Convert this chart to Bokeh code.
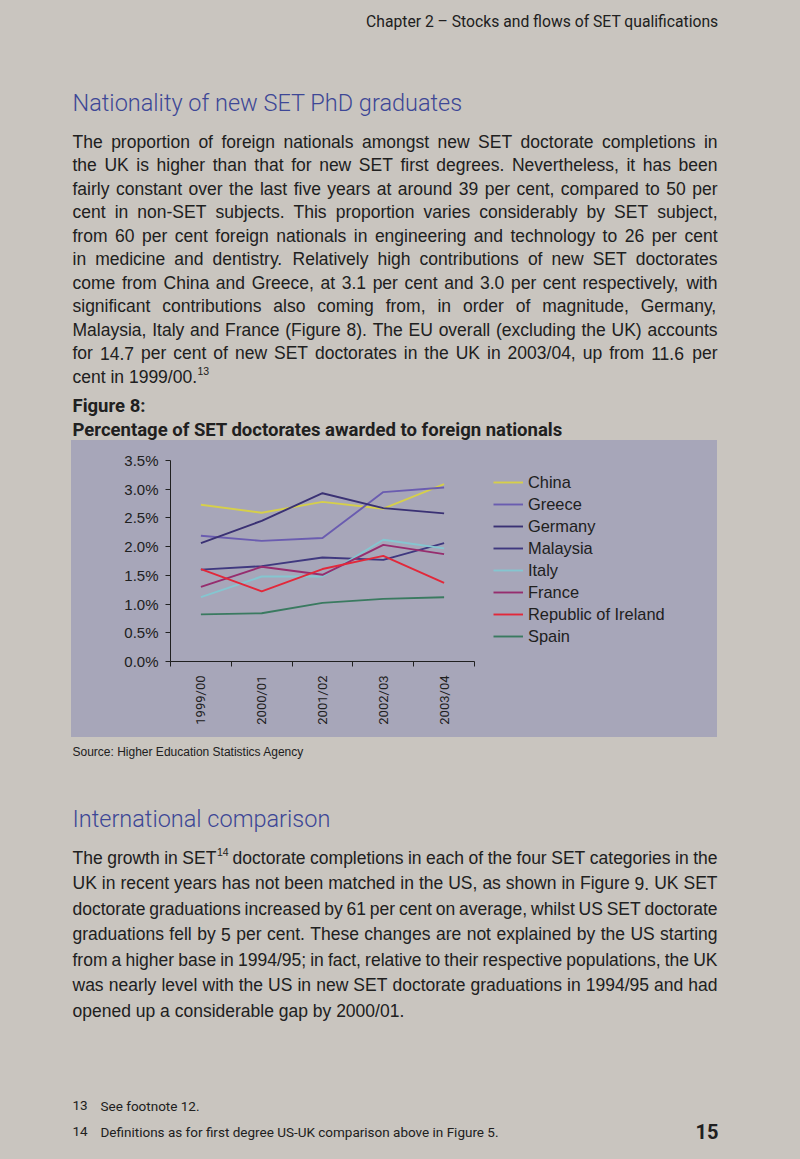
import math
from bokeh.plotting import figure
from bokeh.layouts import column, row
from bokeh.models import Legend, LegendItem, FixedTicker, PrintfTickFormatter, Range1d, Spacer
from bokeh.core.properties import value
from bokeh.embed import file_html
from bokeh.resources import INLINE

# ---------------- data ----------------
years = ["1999/00", "2000/01", "2001/02", "2002/03", "2003/04"]
china = [2.73, 2.59, 2.78, 2.66, 3.09]
greece = [2.19, 2.10, 2.15, 2.95, 3.03]
germany = [2.06, 2.45, 2.93, 2.67, 2.58]
malaysia = [1.60, 1.66, 1.81, 1.77, 2.06]
italy = [1.12, 1.48, 1.48, 2.12, 1.97]
france = [1.30, 1.65, 1.51, 2.03, 1.87]
ireland = [1.61, 1.22, 1.61, 1.84, 1.37]
spain = [0.82, 0.84, 1.02, 1.09, 1.12]
series_names = ["China", "Greece", "Germany", "Malaysia", "Italy", "France",
                "Republic of Ireland", "Spain"]
y_ticks = [0.0, 0.5, 1.0, 1.5, 2.0, 2.5, 3.0, 3.5]

para1 = [
    "The proportion of foreign nationals amongst new SET doctorate completions in",
    "the UK is higher than that for new SET first degrees. Nevertheless, it has been",
    "fairly constant over the last five years at around 39 per cent, compared to 50 per",
    "cent in non-SET subjects. This proportion varies considerably by SET subject,",
    "from 60 per cent foreign nationals in engineering and technology to 26 per cent",
    "in medicine and dentistry. Relatively high contributions of new SET doctorates",
    "come from China and Greece, at 3.1 per cent and 3.0 per cent respectively, with",
    "significant contributions also coming from, in order of magnitude, Germany,",
    "Malaysia, Italy and France (Figure 8). The EU overall (excluding the UK) accounts",
    "for 14.7 per cent of new SET doctorates in the UK in 2003/04, up from 11.6 per",
    "cent in 1999/00.^13",
]
para2 = [
    "The growth in SET^14 doctorate completions in each of the four SET categories in the",
    "UK in recent years has not been matched in the US, as shown in Figure 9. UK SET",
    "doctorate graduations increased by 61 per cent on average, whilst US SET doctorate",
    "graduations fell by 5 per cent. These changes are not explained by the US starting",
    "from a higher base in 1994/95; in fact, relative to their respective populations, the UK",
    "was nearly level with the US in new SET doctorate graduations in 1994/95 and had",
    "opened up a considerable gap by 2000/01.",
]

# ---------------- styles ----------------
BG = "#c9c5bf"
PANEL = "#a7a6b9"
INK = "#202020"
BLUE = "#3d4796"
colors = ["#d6cf4a", "#6a5cb0", "#3a3174", "#3f387f", "#84c6d0", "#962d6e", "#e2283a", "#3a7a60"]
SANS = "Liberation Sans"
COND = "Roboto"
LIGHT = "Roboto Light, Roboto"

AW = {' ': 278, '!': 278, '"': 355, '%': 889, "'": 191, '(': 333, ')': 333, ',': 278, '-': 333,
      '.': 278, '/': 278, ':': 278, ';': 278, '?': 556, '–': 556}
for c in "0123456789":
    AW[c] = 556
AW.update(dict(A=667, B=667, C=722, D=722, E=667, F=611, G=778, H=722, I=278, J=500, K=667, L=556,
               M=833, N=722, O=778, P=667, Q=778, R=722, S=667, T=611, U=722, V=667, W=944, X=667,
               Y=667, Z=611))
AW.update(dict(a=556, b=556, c=500, d=556, e=556, f=278, g=556, h=556, i=222, j=222, k=500, l=222,
               m=833, n=556, o=556, p=556, q=556, r=333, s=500, t=278, u=556, v=500, w=722, x=500,
               y=500, z=500))


def tw(s, size):
    return sum(AW.get(c, 556) for c in s) / 1000.0 * size


def blank_fig(w, h, xr, yr, fill):
    f = figure(width=w, height=h, x_range=xr, y_range=yr,
               output_backend="svg", toolbar_location=None, min_border=0,
               x_axis_type=None, y_axis_type=None)
    f.grid.visible = False
    f.outline_line_color = None
    f.background_fill_color = fill
    f.border_fill_color = fill
    return f


def page_fig(w, h, x0, y0):
    return blank_fig(w, h, Range1d(x0, x0 + w), Range1d(y0 + h, y0), BG)


def put(f, x, y, t, size, font=SANS, color=INK, align="left", style="normal"):
    f.text(x=[x], y=[y], text=[t], text_font=value(font), text_font_size=value(f"{size}px"),
           text_color=color, text_align=align, text_baseline="middle", text_font_style=style)


def paragraph(f, lines, x0, x1, y0, dy, size):
    xs, ys, ts, sx, sy, st = [], [], [], [], [], []
    for k, line in enumerate(lines):
        parts = []
        for w in line.split(" "):
            b, s = (w.split("^") + [""])[:2]
            parts.append((b, s, tw(b, size), tw(s, size * 0.6)))
        total = sum(p[2] + p[3] for p in parts)
        last = k == len(lines) - 1
        gap = tw(" ", size) if last else (x1 - x0 - total) / (len(parts) - 1)
        x = x0
        y = y0 + k * dy
        for b, s, wb, ws in parts:
            xs.append(x); ys.append(y); ts.append(b)
            if s:
                sx.append(x + wb + 0.5); sy.append(y - size * 0.3); st.append(s)
            x += wb + ws + gap
    f.text(x=xs, y=ys, text=ts, text_font=value(SANS), text_font_size=value(f"{size}px"),
           text_color=INK, text_baseline="middle")
    if st:
        f.text(x=sx, y=sy, text=st, text_font=value(SANS), text_font_size=value(f"{size*0.6:.1f}px"),
               text_color=INK, text_baseline="middle")


# ---------------- top text block (page y 0..440) ----------------
top = page_fig(800, 440, 0, 0)
put(top, 718, 21, "Chapter 2 – Stocks and flows of SET qualifications", 15.7, COND, align="right")
put(top, 72, 102, "Nationality of new SET PhD graduates", 23.5, LIGHT, color=BLUE)
paragraph(top, para1, 72, 717, 141, 23.5, 17.5)
put(top, 72, 405, "Figure 8:", 18.5, COND, style="bold")
put(top, 72, 429, "Percentage of SET doctorates awarded to foreign nationals", 18.5, COND, style="bold")

# ---------------- chart (page y 440..737, x 71..480) ----------------
cf = figure(width=409, height=297, x_range=Range1d(-0.5, 4.5), y_range=Range1d(0, 3.5),
            output_backend="svg", toolbar_location=None,
            min_border_left=99, min_border_right=6, min_border_top=20, min_border_bottom=76)
cf.background_fill_color = PANEL
cf.border_fill_color = PANEL
cf.outline_line_color = None
cf.grid.visible = False

xs = list(range(len(years)))
series = [china, greece, germany, malaysia, italy, france, ireland, spain]
for name, vals, col in zip(series_names, series, colors):
    cf.line(xs, vals, line_color=col, line_width=1.9)

xa = cf.xaxis[0]
xa.ticker = FixedTicker(ticks=xs, minor_ticks=[i - 0.5 for i in range(len(years) + 1)])
xa.major_label_overrides = {i: y for i, y in enumerate(years)}
xa.major_label_orientation = math.pi / 2
xa.major_tick_out = 0
xa.major_tick_in = 0
xa.minor_tick_out = 5
xa.minor_tick_in = 0
xa.major_label_standoff = 9
xa.major_label_text_font = COND
xa.major_label_text_font_size = "13px"
xa.major_label_text_color = INK
xa.axis_line_color = INK
xa.minor_tick_line_color = INK

ya = cf.yaxis[0]
ya.ticker = FixedTicker(ticks=y_ticks, minor_ticks=[])
ya.formatter = PrintfTickFormatter(format="%.1f%%")
ya.major_tick_out = 5
ya.major_tick_in = 0
ya.minor_tick_out = 0
ya.minor_tick_in = 0
ya.major_label_standoff = 7
ya.major_label_text_font = SANS
ya.major_label_text_font_size = "15px"
ya.major_label_text_color = INK
ya.axis_line_color = INK
ya.major_tick_line_color = INK

# legend panel (page x 480..717, y 459..737)
lf = blank_fig(237, 278, Range1d(0, 1), Range1d(0, 1), PANEL)
items = []
for name, col in zip(series_names, colors):
    r = lf.line(x=[-1], y=[-1], line_color=col, line_width=1.9)
    items.append(LegendItem(label=name, renderers=[r]))
legend = Legend(items=items, location="top_left", orientation="vertical", padding=0, margin=13,
                spacing=2, glyph_width=30, glyph_height=20, label_height=20, label_standoff=5,
                label_text_font=SANS, label_text_font_size="16.4px", label_text_color=INK,
                background_fill_alpha=0, border_line_alpha=0)
lf.add_layout(legend, "center")
lcol = column(Spacer(width=237, height=19, styles={"background-color": PANEL}), lf,
              spacing=0, styles={"background-color": PANEL})

left_sp = Spacer(width=71, height=297, styles={"background-color": BG})
right_sp = Spacer(width=83, height=297, styles={"background-color": BG})
mid = row(left_sp, cf, lcol, right_sp, spacing=0, styles={"background-color": PANEL})

# ---------------- bottom text block (page y 737..1159) ----------------
bot = page_fig(800, 422, 0, 737)
put(bot, 72, 751, "Source: Higher Education Statistics Agency", 12, SANS)
put(bot, 72, 818, "International comparison", 23.5, LIGHT, color=BLUE)
paragraph(bot, para2, 72, 717, 857, 25.5, 17.5)
put(bot, 72, 1105, "13", 13.5, COND)
put(bot, 100, 1105, "See footnote 12.", 13.5, COND)
put(bot, 72, 1131, "14", 13.5, COND)
put(bot, 100, 1131, "Definitions as for first degree US-UK comparison above in Figure 5.", 13.5, COND)
put(bot, 718, 1131, "15", 20, COND, align="right", style="bold")

page = column(top, mid, bot, spacing=0, styles={"background-color": BG})
open("out.html", "w").write(file_html(page, INLINE))
